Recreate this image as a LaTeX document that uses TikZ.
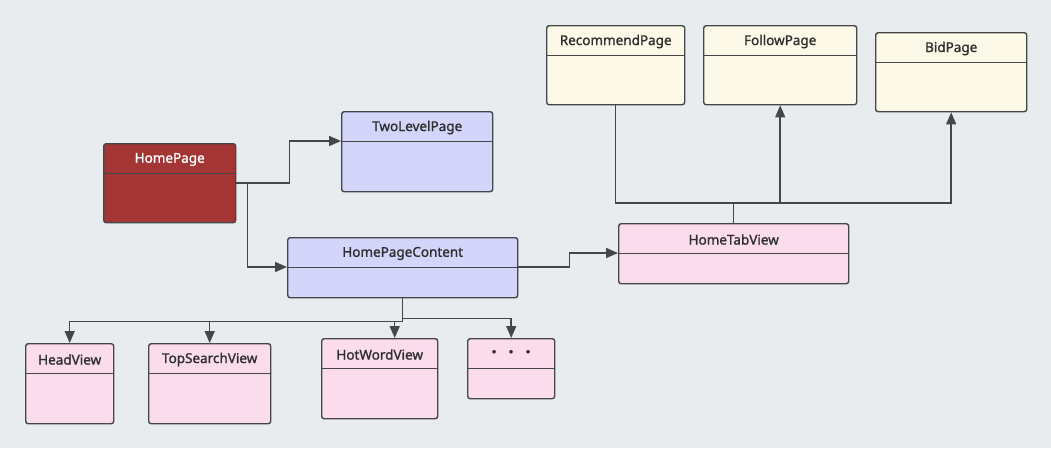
\documentclass[tikz,border=0pt]{standalone}
\usepackage{fontspec}
\setmainfont{Noto Sans}
\newfontfamily\boxfont{Noto Sans}[FakeBold=1.2]
\usetikzlibrary{arrows.meta}

\definecolor{bggray}{HTML}{E8ECEF}
\definecolor{linegray}{HTML}{444649}
\definecolor{homered}{HTML}{A33535}
\definecolor{lavender}{HTML}{D3D5FA}
\definecolor{rosepink}{HTML}{FADCEC}
\definecolor{cream}{HTML}{FDF9E9}

\tikzset{
  classbox/.style={draw=linegray, line width=1.4pt, rounded corners=2.5pt,
    anchor=north west, inner sep=0pt,
    path picture={\draw[linegray, line width=1.4pt]
      ([yshift=-30pt]path picture bounding box.north west) --
      ([yshift=-30pt]path picture bounding box.north east);}},
  headtext/.style={anchor=center, yshift=-16.5pt, inner sep=0pt,
    font=\boxfont\fontsize{13.5}{15}\selectfont, text=black!82},
  conn/.style={draw=linegray, line width=1.5pt},
  arr/.style={conn, -{Triangle[length=12pt,width=10pt]}}
}

\begin{document}
\begin{tikzpicture}[x=1pt,y=-1pt]
  \useasboundingbox[fill=bggray] (0,0) rectangle (1051,448);

  % Left part
  \node[classbox, fill=homered, minimum width=132pt, minimum height=79pt,
    label={[headtext, text=white]north:HomePage}] (hp) at (103,143) {};
  \node[classbox, fill=lavender, minimum width=151pt, minimum height=80pt,
    label={[headtext]north:TwoLevelPage}] (tlp) at (341,111) {};
  \node[classbox, fill=lavender, minimum width=230pt, minimum height=60pt,
    label={[headtext]north:HomePageContent}] (hpc) at (287,237) {};

  % Tab part
  \node[classbox, fill=rosepink, minimum width=230pt, minimum height=60pt,
    label={[headtext]north:HomeTabView}] (htv) at (618,223) {};
  \node[classbox, fill=cream, minimum width=138pt, minimum height=79pt,
    label={[headtext]north:RecommendPage}] (rp) at (546,25) {};
  \node[classbox, fill=cream, minimum width=153pt, minimum height=79pt,
    label={[headtext]north:FollowPage}] (fp) at (703,25) {};
  \node[classbox, fill=cream, minimum width=151pt, minimum height=79pt,
    label={[headtext]north:BidPage}] (bp) at (875,32) {};

  % Bottom row
  \node[classbox, fill=rosepink, minimum width=88pt, minimum height=80pt,
    label={[headtext]north:HeadView}] (hv) at (25,343) {};
  \node[classbox, fill=rosepink, minimum width=122pt, minimum height=80pt,
    label={[headtext]north:TopSearchView}] (tsv) at (148,343) {};
  \node[classbox, fill=rosepink, minimum width=116pt, minimum height=80pt,
    label={[headtext]north:HotWordView}] (hwv) at (321,338) {};
  \node[classbox, fill=rosepink, minimum width=87pt, minimum height=60pt,
    label={[headtext, yshift=2pt]north:{\small$\bullet\;\;\;\;\bullet\;\;\;\;\bullet$}}] (dots) at (467,338) {};

  % Connectors
  \draw[arr] (hp.east) -- ++(53,0) |- ([yshift=-30pt]tlp.north west);
  \draw[arr] (hp.east) -- ++(11,0) |- ([yshift=-30pt]hpc.north west);
  \draw[arr] ([yshift=-30pt]hpc.north east) -- ++(51,0)
    |- ([yshift=-30pt]htv.north west);

  \draw[conn] (htv.north) -- ++(0,-20) coordinate (hub);
  \draw[conn] (rp.south) |- (hub);
  \draw[arr] (hub) -| (fp.south);
  \draw[arr] (hub) -| (bp.south);

  \draw[conn] (hpc.south) -- ++(0,23) coordinate (fork);
  \draw[arr] (fork) -| (hv.north);
  \draw[arr] (fork) -| (tsv.north);
  \draw[arr] (fork) -| ([xshift=15pt]hwv.north);
  \draw[arr] ([yshift=-20pt]hpc.south) -| (dots.north);
\end{tikzpicture}
\end{document}
